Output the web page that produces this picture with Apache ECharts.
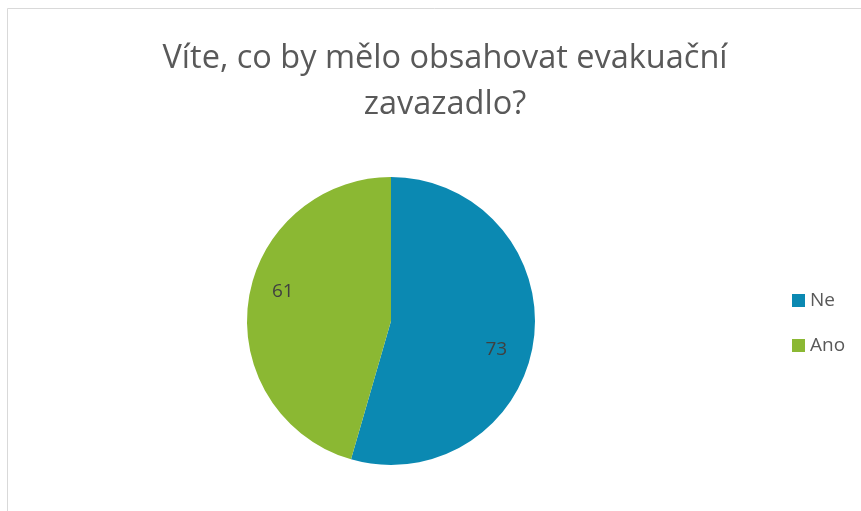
<!DOCTYPE html>
<html>
<head>
<meta charset="utf-8">
<script src="https://cdn.jsdelivr.net/npm/echarts@6/dist/echarts.min.js"></script>
<style>
  html, body { margin: 0; padding: 0; background: #fff; }
  #chart { width: 861px; height: 511px; }
</style>
</head>
<body>
<div id="chart"></div>
<script>
// data
const titleText = 'Víte, co by mělo obsahovat evakuační\nzavazadlo?';
const categories = ['Ne', 'Ano'];
const values = [73, 61];
const colors = ['#0B89B2', '#8BB833'];
// label nudges (Excel puts the numbers further out than the ECharts default)
const labelOffsets = [[31, 18], [-34, -19]];

const chart = echarts.init(document.getElementById('chart'));

const option = {
  animation: false,
  backgroundColor: '#fff',
  textStyle: { fontFamily: 'Open Sans' },
  graphic: [{
    type: 'rect',
    shape: { x: 7.5, y: 8.5, width: 1000, height: 1000 },
    style: { fill: 'none', stroke: '#d9d9d9', lineWidth: 1 },
    silent: true
  }],
  title: {
    text: titleText,
    left: 440,
    textAlign: 'center',
    top: 31,
    textStyle: {
      color: '#595959',
      fontSize: 32.5,
      fontWeight: 'normal',
      fontFamily: 'Open Sans',
      lineHeight: 46
    }
  },
  legend: {
    orient: 'vertical',
    left: 787,
    top: 286,
    icon: 'rect',
    itemWidth: 13,
    itemHeight: 13,
    itemGap: 26,
    data: categories,
    textStyle: { color: '#595959', fontSize: 19, fontFamily: 'Open Sans' }
  },
  series: [{
    type: 'pie',
    center: [391, 321],
    radius: 144,
    startAngle: 90,
    clockwise: true,
    label: {
      show: true,
      position: 'inside',
      color: '#404040',
      fontSize: 19,
      fontFamily: 'Open Sans',
      formatter: '{c}'
    },
    labelLine: { show: false },
    itemStyle: { borderWidth: 0 },
    emphasis: { disabled: true },
    data: categories.map((name, i) => ({
      name: name,
      value: values[i],
      itemStyle: { color: colors[i] },
      label: { offset: labelOffsets[i] }
    }))
  }]
};

chart.setOption(option);
</script>
</body>
</html>
